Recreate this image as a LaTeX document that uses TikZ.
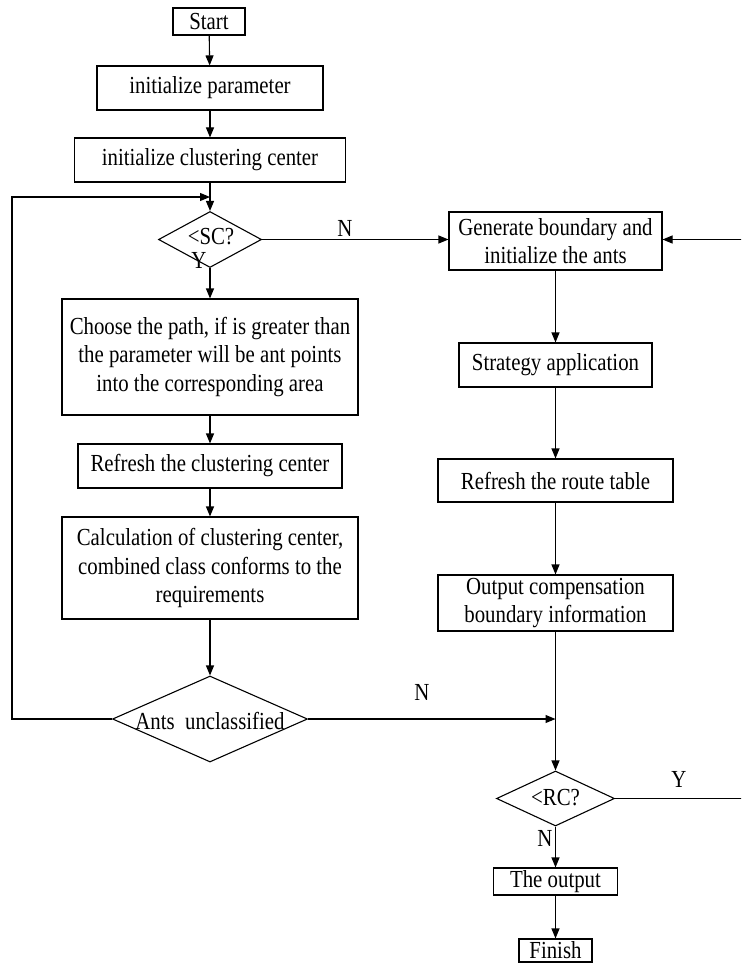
\documentclass[tikz,border=0pt]{standalone}
\usepackage{fontspec}
\setmainfont[FakeStretch=0.85]{Liberation Serif}
\usetikzlibrary{shapes.geometric,arrows.meta,calc}
\newcommand\flowfs{\fontsize{24.5pt}{28.5pt}\selectfont}
\begin{document}
\begin{tikzpicture}[x=1pt,y=-1pt,
  every node/.style={font=\flowfs},
  proc/.style={draw, line width=1.1pt, inner sep=0pt, align=center},
  dec/.style={draw, diamond, line width=1.1pt, inner sep=0pt},
  lbl/.style={inner sep=0pt},
  conn/.style={line width=1.1pt},
  arr/.style={line width=1.1pt, -{Triangle[length=10pt,width=8pt]}}
]
\useasboundingbox (0,0) rectangle (741,963);
\clip (0,0) rectangle (741,963);
% left column
\node[proc, minimum width=72pt, minimum height=27pt] (start) at (209,21.5) {Start};
\node[proc, minimum width=226pt, minimum height=44pt] (ip) at (210,88) {initialize parameter};
\node[proc, minimum width=271pt, minimum height=44pt] (icc) at (210,160) {initialize clustering center};
\node[dec, minimum width=103pt, minimum height=56pt] (sc) at (210,239.5) {};
\node[lbl] (sct) at (211,236.5) {<SC?};
\node[proc, minimum width=296pt, minimum height=116pt] (choose) at (210,357) {Choose the path, if is greater than\\the parameter will be ant points\\into the corresponding area};
\node[proc, minimum width=264pt, minimum height=44pt] (rcc) at (210,466) {Refresh the clustering center};
\node[proc, minimum width=296pt, minimum height=102pt] (calc) at (210,568) {Calculation of clustering center,\\combined class conforms to the\\requirements};
\node[dec, minimum width=195pt, minimum height=86pt] (ants) at (210,719) {};
\node[lbl] (antst) at (210,721) {Ants\ \ unclassified};
% right column
\node[proc, minimum width=213pt, minimum height=58pt] (gen) at (555.5,241) {Generate boundary and\\initialize the ants};
\node[proc, minimum width=193pt, minimum height=44pt] (strat) at (555.5,365) {Strategy application};
\node[proc, minimum width=235pt, minimum height=43pt] (rrt) at (555.5,480.5) {Refresh the route table};
\node[proc, minimum width=235pt, minimum height=56pt] (outc) at (555.5,603) {Output compensation\\boundary information};
\node[dec, minimum width=118pt, minimum height=55pt] (rc) at (555.5,798.5) {};
\node[lbl] (rct) at (555.5,798) {<RC?};
\node[proc, minimum width=124pt, minimum height=27pt] (out) at (555.5,881.5) {The output};
\node[proc, minimum width=73pt, minimum height=23pt] (fin) at (555.5,950.5) {Finish};
% labels
\node[lbl] (n1) at (345,228) {N};
\node[lbl] (y1) at (199,260) {Y};
\node[lbl] (n2) at (422,692) {N};
\node[lbl] (y2) at (679,779) {Y};
\node[lbl] (n3) at (545,838) {N};
% coordinates
\coordinate (loopin) at (210,197);
\coordinate (lbl1) at (12,719);
\coordinate (ltop) at (12,197);
\coordinate (junc) at (555.5,719);
\coordinate (rbot) at (748,798.5);
\coordinate (rtop) at (748,239.5);
% connectors
\draw[arr] (start) -- (ip);
\draw[arr] (ip) -- (icc);
\draw[arr] (icc) -- (sc.north);
\draw[arr] (sc.south) -- (choose);
\draw[arr] (sc.east) -- (sc.east -| gen.west);
\draw[arr] (choose) -- (rcc);
\draw[arr] (rcc) -- (calc);
\draw[arr] (calc) -- (ants.north);
\draw[arr] (ants.west) -- (lbl1) -- (ltop) -- (loopin);
\draw[arr] (ants.east) -- (junc);
\draw[arr] (gen) -- (strat);
\draw[arr] (strat) -- (rrt);
\draw[arr] (rrt) -- (outc);
\draw[arr] (outc) -- (rc.north);
\draw[arr] (rc.south) -- (out);
\draw[arr] (out) -- (fin);
\draw[arr] (rc.east) -- (rbot) -- (rtop) -- (rtop -| gen.east);
\end{tikzpicture}
\end{document}
